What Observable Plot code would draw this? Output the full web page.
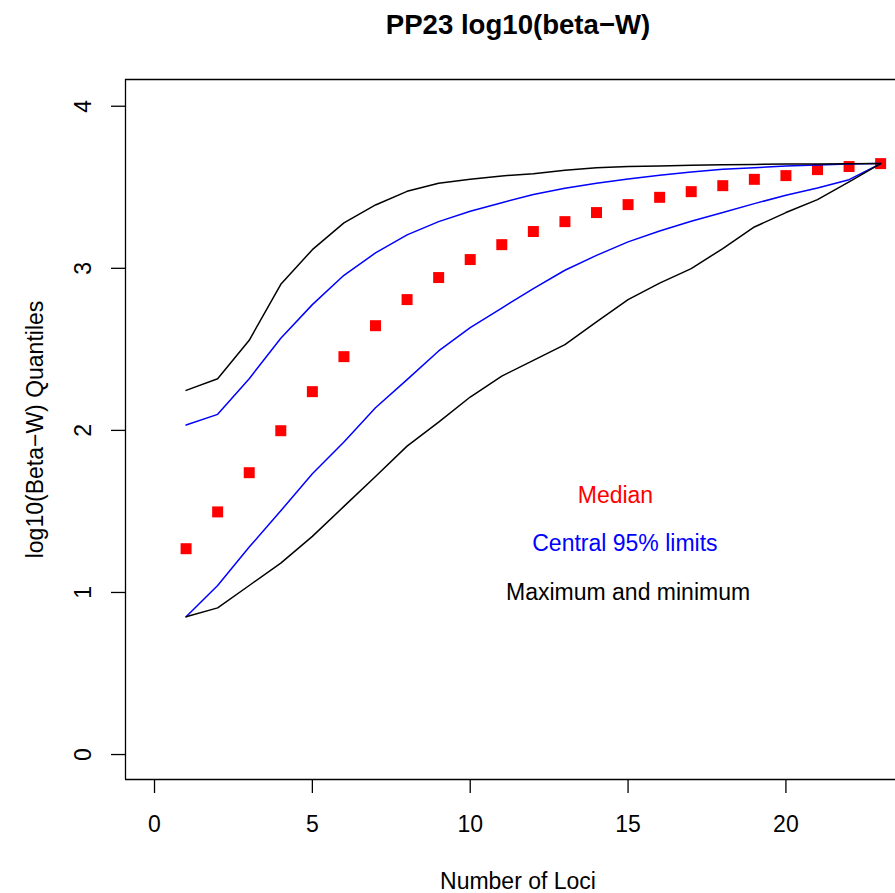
<!DOCTYPE html>
<html><head><meta charset="utf-8">
<script src="https://cdn.jsdelivr.net/npm/d3@7"></script>
<script src="https://cdn.jsdelivr.net/npm/@observablehq/plot@0.6"></script>
<style>
html,body{margin:0;padding:0;background:#fff;overflow:hidden}
#wrap{position:relative;width:895px;height:893px;font-family:"Liberation Sans",Arial,Helvetica,sans-serif}
#title{position:absolute;left:0;top:11px;width:1036px;text-align:center;font-weight:bold;font-size:27.6px;line-height:27.6px;color:#000}
#chart{position:absolute;left:0;top:0}
</style>
</head><body>
<div id="wrap"><div id="chart"></div><div id="title"></div></div>
<script>
const titleText = "PP23 log10(beta−W)";
const xLabel = "Number of Loci";
const yLabel = "log10(Beta−W) Quantiles";
const loci = [1,2,3,4,5,6,7,8,9,10,11,12,13,14,15,16,17,18,19,20,21,22,23];
const median = [1.270,1.497,1.739,1.998,2.239,2.455,2.646,2.807,2.943,3.054,3.146,3.227,3.288,3.344,3.393,3.438,3.473,3.510,3.549,3.572,3.609,3.628,3.646];
const upper95 = [2.033,2.099,2.319,2.568,2.776,2.957,3.095,3.206,3.288,3.352,3.405,3.455,3.494,3.525,3.551,3.574,3.594,3.611,3.621,3.631,3.638,3.643,3.646];
const lower95 = [0.850,1.043,1.280,1.504,1.733,1.928,2.140,2.313,2.490,2.634,2.755,2.875,2.988,3.080,3.163,3.230,3.290,3.344,3.399,3.451,3.495,3.547,3.646];
const maxVals = [2.247,2.319,2.556,2.901,3.115,3.280,3.391,3.475,3.525,3.549,3.570,3.584,3.605,3.621,3.628,3.632,3.636,3.639,3.641,3.643,3.644,3.645,3.646];
const minVals = [0.850,0.905,1.043,1.181,1.346,1.531,1.716,1.903,2.051,2.206,2.335,2.432,2.529,2.669,2.807,2.909,2.998,3.122,3.255,3.344,3.424,3.533,3.646];
const xTicks = [0,5,10,15,20];
const yTicks = [0,1,2,3,4];
const legendLabels = ["Median","Central 95% limits","Maximum and minimum"];
const legendColors = ["#ff0000","#0000ff","#000000"];
const legendX = [14.6,14.9,15.0];
const legendY = [1.6,1.3,1.0];

document.getElementById("title").textContent = titleText;

const xDomain = [-0.919, 23.471];
const yDomain = [-0.154, 4.165];

const table = (vals) => loci.map((x,i)=>({x, y: vals[i]}));
const legend = legendLabels.map((t,i)=>({t, c: legendColors[i], x: legendX[i], y: legendY[i]}));
const FS = 23;

const chart = Plot.plot({
  width: 895, height: 893,
  marginLeft: 125, marginRight: 0, marginTop: 79, marginBottom: 114,
  style: {fontFamily: '"Liberation Sans", Arial, Helvetica, sans-serif', background: "#fff"},
  x: {domain: xDomain},
  y: {domain: yDomain},
  marks: [
    Plot.ruleY([yDomain[1]], {stroke: "#000", strokeWidth: 1.3}),
    Plot.ruleY([yDomain[0]], {stroke: "#000", strokeWidth: 1.3}),
    Plot.ruleX([xDomain[0]], {stroke: "#000", strokeWidth: 1.3}),
    Plot.axisX({ticks: xTicks, tickSize: 14, tickPadding: 22, fontSize: FS, label: null, stroke: "#000", strokeWidth: 1.3, tickFormat: d => String(d)}),
    Plot.axisY({ticks: yTicks, tickSize: 14, tickPadding: 21, fontSize: FS, label: null, tickRotate: -90, stroke: "#000", strokeWidth: 1.3, tickFormat: d => String(d)}),
    Plot.dot(table(median), {x: "x", y: "y", symbol: "square", r: 6.2, fill: "#ff0000", stroke: null}),
    Plot.line(table(upper95), {x: "x", y: "y", stroke: "#0000ff", strokeWidth: 1.5}),
    Plot.line(table(lower95), {x: "x", y: "y", stroke: "#0000ff", strokeWidth: 1.5}),
    Plot.line(table(maxVals), {x: "x", y: "y", stroke: "#000", strokeWidth: 1.5}),
    Plot.line(table(minVals), {x: "x", y: "y", stroke: "#000", strokeWidth: 1.5}),
    Plot.text(legend, {x: "x", y: "y", text: "t", fill: "c", fontSize: FS, textAnchor: "middle"}),
    Plot.text([xLabel], {frameAnchor: "bottom", dy: 109, dx: 7.5, fontSize: FS, fill: "#000", textAnchor: "middle"}),
    Plot.text([yLabel], {frameAnchor: "left", dx: -90, rotate: -90, fontSize: FS, fill: "#000", textAnchor: "middle"})
  ]
});
document.getElementById("chart").appendChild(chart);
</script>
</body></html>
